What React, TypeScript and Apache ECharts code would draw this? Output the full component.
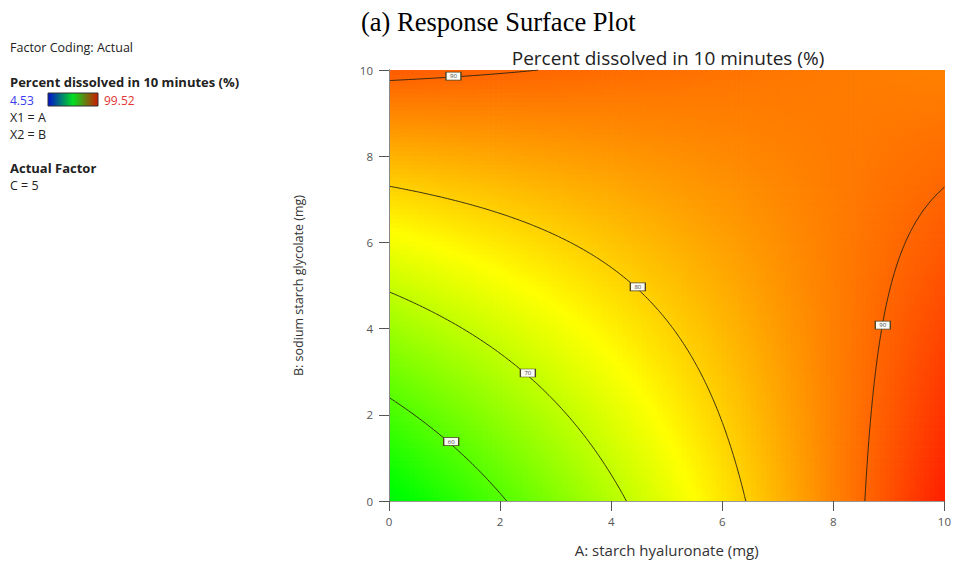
import React, { useEffect, useRef } from 'react';
import * as echarts from 'echarts';

// Response and its colour range
const responseTitle = 'Percent dissolved in 10 minutes (%)';
const responseMin = 4.53;
const responseMax = 99.52;

// Fitted response-surface model in actual units (factor C held at 5)
const modelTerms = ['Intercept', 'A', 'B', 'AB', 'A^2', 'B^2'];
const modelCoefficients = [50.2, 4.62, 4.08, -0.5, 0.003, 0];

// Contour levels and where their value tags sit (A, B)
const contourLevels = [60, 70, 80, 90];
const tagLevel = [60, 70, 80, 90, 90];
const tagA = [1.12, 2.5, 4.48, 1.16, 8.89];
const tagB = [1.38, 2.97, 4.97, 9.86, 4.08];

// Axes
const factorMin = 0;
const factorMax = 10;
const tickStep = 2;
const xAxisTitle = 'A: starch hyaluronate (mg)';
const yAxisTitle = 'B: sodium starch glycolate (mg)';

// Side panel
const panelLines = [
  { text: 'Factor Coding: Actual', y: 47, bold: false },
  { text: 'Percent dissolved in 10 minutes (%)', y: 82, bold: true },
  { text: 'X1 = A', y: 117, bold: false },
  { text: 'X2 = B', y: 134, bold: false },
  { text: 'Actual Factor', y: 168, bold: true },
  { text: 'C = 5', y: 185, bold: false },
];

const FONT = "'Open Sans', 'Noto Sans', sans-serif";

function predict(a: number, b: number): number {
  const c = modelCoefficients;
  const x = [1, a, b, a * b, a * a, b * b];
  let y = 0;
  for (let k = 0; k < modelTerms.length; k++) y += c[k] * x[k];
  return y;
}

// Colour cells of the surface
const cellsA = 112;
const cellsB = 96;
const cellW = (factorMax - factorMin) / cellsA;
const cellH = (factorMax - factorMin) / cellsB;
const cellData: number[][] = [];
for (let i = 0; i < cellsA; i++) {
  for (let j = 0; j < cellsB; j++) {
    const a = factorMin + (i + 0.5) * cellW;
    const b = factorMin + (j + 0.5) * cellH;
    cellData.push([a, b, predict(a, b)]);
  }
}

// Marching squares, then chain the pieces into polylines
function contourPolylines(level: number, n: number): number[][][] {
  const h = (factorMax - factorMin) / n;
  const f = (i: number, j: number) => predict(factorMin + i * h, factorMin + j * h);
  const segs: number[][][] = [];
  for (let i = 0; i < n; i++) {
    for (let j = 0; j < n; j++) {
      const x0 = factorMin + i * h, y0 = factorMin + j * h, x1 = x0 + h, y1 = y0 + h;
      const v00 = f(i, j), v10 = f(i + 1, j), v11 = f(i + 1, j + 1), v01 = f(i, j + 1);
      const pts: number[][] = [];
      const edge = (va: number, vb: number, pa: number[], pb: number[]) => {
        if ((va < level) !== (vb < level)) {
          const lo = va < vb ? { v: va, p: pa } : { v: vb, p: pb };
          const hi = va < vb ? { v: vb, p: pb } : { v: va, p: pa };
          const t = (level - lo.v) / (hi.v - lo.v);
          pts.push([lo.p[0] + t * (hi.p[0] - lo.p[0]), lo.p[1] + t * (hi.p[1] - lo.p[1])]);
        }
      };
      edge(v00, v10, [x0, y0], [x1, y0]);
      edge(v10, v11, [x1, y0], [x1, y1]);
      edge(v11, v01, [x1, y1], [x0, y1]);
      edge(v01, v00, [x0, y1], [x0, y0]);
      if (pts.length === 2) segs.push([pts[0], pts[1]]);
      else if (pts.length === 4) {
        segs.push([pts[0], pts[1]]);
        segs.push([pts[2], pts[3]]);
      }
    }
  }
  const key = (p: number[]) => p[0].toFixed(6) + ',' + p[1].toFixed(6);
  const byKey = new Map<string, number[]>();
  segs.forEach((s, idx) => {
    s.forEach((p) => {
      const k = key(p);
      if (!byKey.has(k)) byKey.set(k, []);
      byKey.get(k)!.push(idx);
    });
  });
  const used = new Array(segs.length).fill(false);
  const lines: number[][][] = [];
  const extend = (line: number[][]) => {
    for (;;) {
      const end = line[line.length - 1];
      const cand = (byKey.get(key(end)) || []).find((idx) => !used[idx]);
      if (cand === undefined) break;
      used[cand] = true;
      const s = segs[cand];
      line.push(key(s[0]) === key(end) ? s[1] : s[0]);
    }
  };
  for (let s = 0; s < segs.length; s++) {
    if (used[s]) continue;
    used[s] = true;
    const line = [segs[s][0], segs[s][1]];
    extend(line);
    line.reverse();
    extend(line);
    lines.push(line);
  }
  return lines;
}

const contourData = contourLevels.flatMap((lv) =>
  contourPolylines(lv, 200).map((coords) => ({ coords }))
);

const tagData = tagLevel.map((lv, k) => [tagA[k], tagB[k], lv]);

function buildOption(): echarts.EChartsOption {
  const axisColor = '#555';
  const baseX = {
    type: 'value' as const,
    min: factorMin,
    max: factorMax,
    interval: tickStep,
  };
  return {
    animation: false,
    backgroundColor: '#ffffff',
    grid: { left: 389, right: 5, top: 70, bottom: 60, show: false },
    xAxis: [
      {
        ...baseX,
        position: 'bottom',
        z: 10,
        name: xAxisTitle,
        nameLocation: 'middle',
        nameGap: 41,
        nameTextStyle: { fontSize: 15, color: '#333', fontFamily: FONT },
        axisLine: { show: true, lineStyle: { color: axisColor, width: 1 } },
        axisTick: { show: true, length: 10, lineStyle: { color: axisColor } },
        axisLabel: { fontSize: 11.5, color: '#555', margin: 14, fontFamily: FONT },
        splitLine: { show: false },
      },
      {
        ...baseX,
        position: 'top',
        z: 10,
        axisLine: { show: true, lineStyle: { color: '#999', width: 1 } },
        axisTick: { show: false },
        axisLabel: { show: false },
        splitLine: { show: false },
      },
    ],
    yAxis: [
      {
        ...baseX,
        position: 'left',
        z: 10,
        name: yAxisTitle,
        nameLocation: 'middle',
        nameGap: 84,
        nameTextStyle: { fontSize: 12.5, color: '#333', fontFamily: FONT },
        axisLine: { show: true, lineStyle: { color: axisColor, width: 1 } },
        axisTick: { show: true, length: 10, lineStyle: { color: axisColor } },
        axisLabel: { fontSize: 11.5, color: '#555', margin: 16, fontFamily: FONT },
        splitLine: { show: false },
      },
      {
        ...baseX,
        position: 'right',
        z: 10,
        axisLine: { show: true, lineStyle: { color: '#888', width: 1 } },
        axisTick: { show: false },
        axisLabel: { show: false },
        splitLine: { show: false },
      },
    ],
    visualMap: {
      show: false,
      type: 'continuous',
      min: responseMin,
      max: responseMax,
      dimension: 2,
      seriesIndex: 0,
      inRange: { color: ['#0000ff', '#0080c0', '#00ff00', '#ffff00', '#ff0000'] },
    },
    series: [
      {
        type: 'custom',
        name: responseTitle,
        coordinateSystem: 'cartesian2d',
        clip: true,
        silent: true,
        progressive: 0,
        data: cellData,
        encode: { x: 0, y: 1 },
        renderItem: (params: any, api: any) => {
          const a = api.value(0);
          const b = api.value(1);
          const p0 = api.coord([a - cellW / 2, b + cellH / 2]);
          const p1 = api.coord([a + cellW / 2, b - cellH / 2]);
          return {
            type: 'rect',
            shape: { x: p0[0], y: p0[1], width: p1[0] - p0[0] + 0.7, height: p1[1] - p0[1] + 0.7 },
            style: { fill: api.visual('color') },
          };
        },
        z: 1,
      },
      {
        type: 'lines',
        coordinateSystem: 'cartesian2d',
        polyline: true,
        silent: true,
        data: contourData,
        lineStyle: { color: '#262214', width: 1, opacity: 0.9, curveness: 0 },
        z: 3,
      },
      {
        type: 'scatter',
        silent: true,
        data: tagData,
        symbol: 'rect',
        symbolSize: [15, 8],
        itemStyle: { color: '#fbfbf6', borderColor: '#4a4220', borderWidth: 1, opacity: 1 },
        label: {
          show: true,
          position: 'inside',
          formatter: (p: any) => String(p.value[2]),
          fontSize: 6,
          color: '#444',
          fontFamily: FONT,
        },
        z: 5,
      },
    ],
    graphic: [
      {
        type: 'text',
        x: 361,
        y: 22,
        style: {
          text: '(a) Response Surface Plot',
          fill: '#000',
          fontSize: 26.5,
          fontFamily: "'Liberation Serif', 'Times New Roman', serif",
          align: 'left',
          verticalAlign: 'middle',
        },
      },
      {
        type: 'text',
        x: 668,
        y: 58,
        style: {
          text: responseTitle,
          fill: '#222',
          fontSize: 19,
          fontFamily: FONT,
          align: 'center',
          verticalAlign: 'middle',
        },
      },
      ...panelLines.map((l) => ({
        type: 'text' as const,
        x: 10,
        y: l.y,
        style: {
          text: l.text,
          fill: '#222',
          fontSize: l.bold ? 13 : 12.5,
          fontWeight: l.bold ? ('bold' as const) : ('normal' as const),
          fontFamily: FONT,
          align: 'left' as const,
          verticalAlign: 'middle' as const,
        },
      })),
      {
        type: 'text',
        x: 10,
        y: 100,
        style: {
          text: String(responseMin),
          fill: '#3a3aee',
          fontSize: 12,
          fontFamily: FONT,
          align: 'left',
          verticalAlign: 'middle',
        },
      },
      {
        type: 'rect',
        shape: { x: 48, y: 93, width: 50, height: 13 },
        style: {
          fill: new echarts.graphic.LinearGradient(0, 0, 1, 0, [
            { offset: 0, color: '#0010d0' },
            { offset: 0.5, color: '#00e020' },
            { offset: 1, color: '#d01800' },
          ]),
          stroke: '#333',
          lineWidth: 1,
        },
      },
      {
        type: 'text',
        x: 104,
        y: 100,
        style: {
          text: String(responseMax),
          fill: '#e03434',
          fontSize: 12,
          fontFamily: FONT,
          align: 'left',
          verticalAlign: 'middle',
        },
      },
    ],
  } as echarts.EChartsOption;
}

export default function App() {
  const ref = useRef<HTMLDivElement>(null);
  useEffect(() => {
    if (!ref.current) return;
    const chart = echarts.init(ref.current, null, { renderer: 'svg' });
    chart.setOption(buildOption());
    return () => chart.dispose();
  }, []);
  return (
    <div
      ref={ref}
      style={{ position: 'fixed', left: 0, top: 0, width: 954, height: 562, background: '#fff' }}
    />
  );
}
